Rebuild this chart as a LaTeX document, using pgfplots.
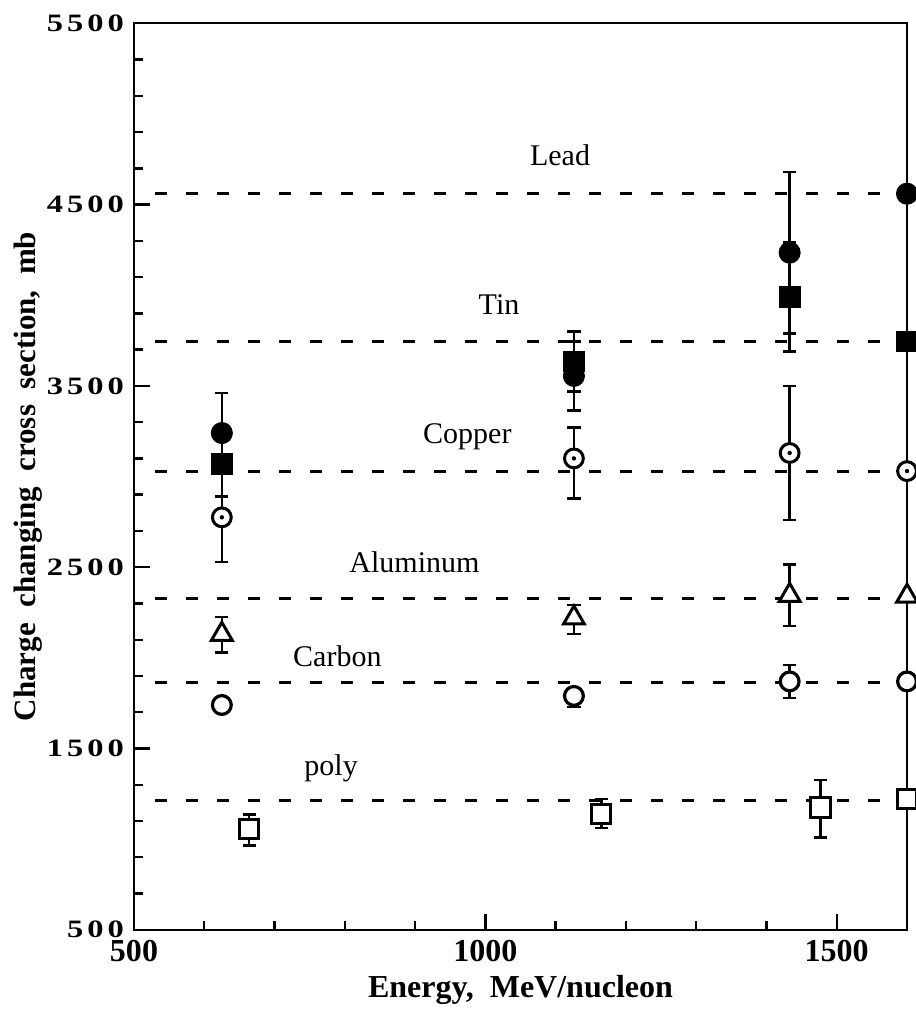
\documentclass[border=0pt]{standalone}
\usepackage{fontspec}
\setmainfont{Liberation Serif}
\newfontfamily\ytickfont[LetterSpace=16, FakeStretch=1.3]{Liberation Serif}
\usepackage{pgfplots}
\pgfplotsset{compat=1.18}

% circle with a dot in the middle (copper)
\pgfdeclareplotmark{odot}{%
  \pgfpathcircle{\pgfpointorigin}{\pgfplotmarksize}%
  \pgfusepathqfillstroke
  \begin{pgfscope}%
  \pgfsetfillcolor{black}%
  \pgfpathcircle{\pgfpointorigin}{1.1pt}%
  \pgfusepathqfill
  \end{pgfscope}}

\tikzset{lbl/.style={anchor=base west, font=\fontsize{15}{15}\selectfont, inner sep=0pt}}

% x = energy (MeV/nucleon), y = cross section (mb), ep/em = error bars
\pgfplotstableread{
x    y    ep   em
625  3240 220  220
1126 3555 190  190
1433 4235 445  445
1600 4560 0    0
}\lead
\pgfplotstableread{
x    y    ep   em
625  3070 180  180
1126 3635 165  165
1433 3990 300  300
1600 3745 0    0
}\tin
\pgfplotstableread{
x    y    ep   em
625  2775 245  245
1126 3100 170  220
1433 3130 370  370
1600 3030 0    0
}\copper
\pgfplotstableread{
x    y    ep   em
625  2130 95   100
1126 2220 70   90
1433 2345 170  170
1600 2340 0    0
}\alum
\pgfplotstableread{
x    y    ep   em
625  1740 30   40
1126 1790 40   60
1433 1870 90   90
1600 1870 0    0
}\carbon
\pgfplotstableread{
x    y    ep   em
664  1055 80   90
1165 1140 80   80
1477 1175 150  165
1600 1220 0    0
}\poly

\begin{document}
\begin{tikzpicture}
\begin{axis}[
    scale only axis,
    width=386.5pt, height=453.25pt,
    xmin=500, xmax=1600,
    ymin=500, ymax=5500,
    xtick={500,1000,1500},
    xticklabels={500,1000,1500},
    ytick={500,1500,2500,3500,4500,5500},
    yticklabels={500,1500,2500,3500,4500,5500},
    minor x tick num=4,
    minor y tick num=4,
    tick pos=left,
    tick align=inside,
    major tick length=8pt,
    minor tick length=4.5pt,
    axis line style={line width=1.2pt},
    every tick/.style={black, line width=1.2pt},
    xticklabel style={font=\fontsize{16}{16}\selectfont\bfseries, yshift=-1.5pt},
    yticklabel style={font=\fontsize{12.5}{13}\ytickfont\bfseries, xshift=-1.5pt},
    xlabel={Energy,\ \ MeV/nucleon},
    ylabel={Charge\ \ changing\ \ cross\ \ section,\ \ mb},
    xlabel style={font=\fontsize{16}{16}\selectfont\bfseries,
        at={([yshift=-34pt]axis description cs:0.5,0)}, anchor=base},
    ylabel style={font=\fontsize{15.5}{16}\selectfont\bfseries,
        at={([xshift=-49pt]axis description cs:0,0.5)}, anchor=base},
    error bars/error bar style={black, line width=1.2pt},
    error bars/error mark options={rotate=90, black, draw=black, line width=1.2pt, mark size=3.3pt},
    ref/.style={black, line width=1.5pt, dash pattern=on 5.8pt off 9.7pt, forget plot},
]

% reference levels
\addplot[ref] coordinates {(530,4560) (1600,4560)};
\addplot[ref] coordinates {(530,3745) (1600,3745)};
\addplot[ref] coordinates {(530,3030) (1600,3030)};
\addplot[ref] coordinates {(530,2325) (1600,2325)};
\addplot[ref] coordinates {(530,1865) (1600,1865)};
\addplot[ref] coordinates {(530,1215) (1600,1215)};

% data
\addplot[only marks, mark=*, mark size=5.3pt, mark options={fill=black, draw=black},
    error bars/.cd, y dir=both, y explicit]
    table[x=x, y=y, y error plus=ep, y error minus=em] {\lead};
\addplot[only marks, mark=square*, mark size=5.2pt, mark options={fill=black, draw=black},
    error bars/.cd, y dir=both, y explicit]
    table[x=x, y=y, y error plus=ep, y error minus=em] {\tin};
\addplot[only marks, mark=odot, mark size=4.7pt, mark options={fill=white, draw=black, line width=1.5pt},
    error bars/.cd, y dir=both, y explicit]
    table[x=x, y=y, y error plus=ep, y error minus=em] {\copper};
\addplot[only marks, mark=triangle*, mark size=6pt, mark options={fill=white, draw=black, line width=1.5pt},
    error bars/.cd, y dir=both, y explicit]
    table[x=x, y=y, y error plus=ep, y error minus=em] {\alum};
\addplot[only marks, mark=*, mark size=4.7pt, mark options={fill=white, draw=black, line width=1.6pt},
    error bars/.cd, y dir=both, y explicit]
    table[x=x, y=y, y error plus=ep, y error minus=em] {\carbon};
\addplot[only marks, mark=square*, mark size=4.8pt, mark options={fill=white, draw=black, line width=1.5pt},
    error bars/.cd, y dir=both, y explicit]
    table[x=x, y=y, y error plus=ep, y error minus=em] {\poly};

\node[lbl] at (axis cs:1063,4718) {Lead};
\node[lbl] at (axis cs:990,3892) {Tin};
\node[lbl] at (axis cs:911,3185) {Copper};
\node[lbl] at (axis cs:806,2468) {Aluminum};
\node[lbl] at (axis cs:726,1950) {Carbon};
\node[lbl] at (axis cs:742,1349) {poly};

\coordinate (bl) at (rel axis cs:0,0);
\coordinate (tr) at (rel axis cs:1,1);
\end{axis}
\pgfresetboundingbox
\path[use as bounding box] ([shift={(-67pt,-42.6pt)}]bl) rectangle ([shift={(4pt,11.65pt)}]tr);
\end{tikzpicture}
\end{document}
